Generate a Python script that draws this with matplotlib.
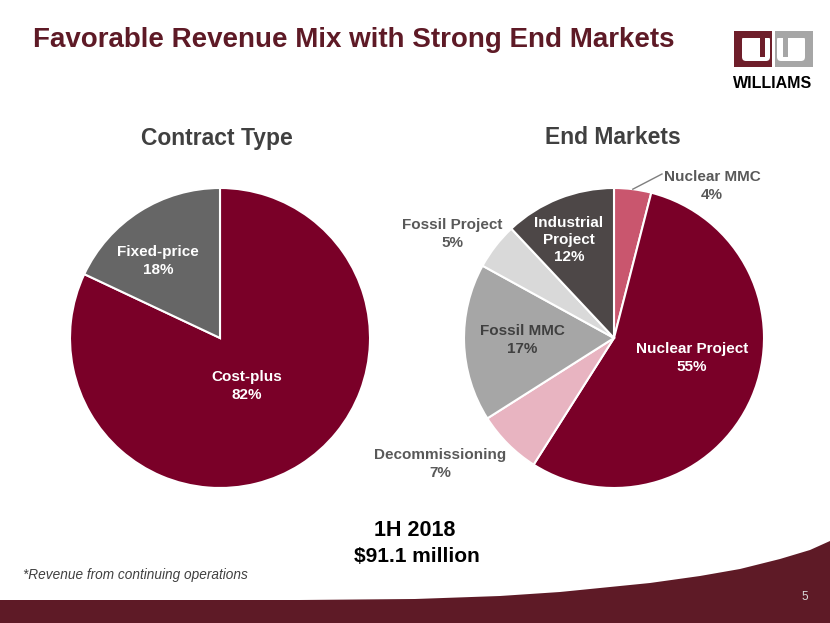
import matplotlib.pyplot as plt
from matplotlib.patches import Polygon, Rectangle, FancyBboxPatch
import numpy as np

plt.rcParams['font.family'] = ['Liberation Sans', 'DejaVu Sans']

W, H = 830, 623

# ===== データ =====
contract_labels = ['Cost-plus', 'Fixed-price']
contract_values = [82, 18]

market_labels = ['Nuclear MMC', 'Nuclear Project', 'Decommissioning',
                 'Fossil MMC', 'Fossil Project', 'Industrial\nProject']
market_values = [4, 55, 7, 17, 5, 12]

# ===== 色 =====
MAROON = '#7A0028'
DARK_RED = '#5E1A26'
contract_colors = [MAROON, '#666666']
market_colors = ['#C9566E', MAROON, '#E8B4C1', '#A6A6A6', '#D9D9D9', '#4D4747']

# ラベル位置（ピクセル座標, 色）
contract_label_pos = [(247, 386, 'white'), (158, 261, 'white')]
market_label_pos = [(712, 186, '#595959'), (692, 358, 'white'), (440, 464, '#595959'),
                    (522, 340, '#404040'), (452, 234, '#595959'), (569, 240, 'white')]

fig = plt.figure(figsize=(W / 100, H / 100), dpi=100)
ax = fig.add_axes([0, 0, 1, 1])


def Y(y):
    return H - y


def draw_pie(values, colors, center, labels, label_pos):
    ax.pie(values, colors=colors, startangle=90, counterclock=False,
           center=(center[0], Y(center[1])), radius=150,
           wedgeprops=dict(edgecolor='white', linewidth=1.5))
    total = sum(values)
    for lab, v, (x, y, c) in zip(labels, values, label_pos):
        ax.text(x, Y(y), f'{lab}\n{round(v / total * 100)}%', ha='center', va='center',
                fontsize=11, fontweight='bold', color=c, linespacing=1.3)


draw_pie(contract_values, contract_colors, (220, 338), contract_labels, contract_label_pos)
draw_pie(market_values, market_colors, (614, 338), market_labels, market_label_pos)

# Nuclear MMC の引き出し線
ang = np.deg2rad(90 - 360 * market_values[0] / sum(market_values) / 2)
x0, y0 = 614 + 150 * np.cos(ang), Y(338) + 150 * np.sin(ang)
ax.plot([x0, 662], [y0, Y(174)], color='#7F7F7F', linewidth=1)

ax.set_xlim(0, W)
ax.set_ylim(0, H)
ax.set_aspect('auto')
ax.axis('off')

# タイトル
ax.text(33, Y(40), 'Favorable Revenue Mix with Strong End Markets', fontsize=20,
        fontweight='bold', color=DARK_RED, ha='left', va='center')
ax.text(217, Y(138), 'Contract Type', fontsize=16.5, fontweight='bold', color='#404040',
        ha='center', va='center')
ax.text(613, Y(138), 'End Markets', fontsize=16.5, fontweight='bold', color='#404040',
        ha='center', va='center')

ax.text(415, Y(530), '1H 2018', fontsize=15.5, fontweight='bold', color='black',
        ha='center', va='center')
ax.text(417, Y(557), '$91.1 million', fontsize=15, fontweight='bold', color='black',
        ha='center', va='center')
ax.text(23, Y(575), '*Revenue from continuing operations', fontsize=9.8, style='italic',
        color='#404040', ha='left', va='center')

# 下部の帯
bx = [0, 300, 415, 500, 560, 600, 650, 700, 740, 780, 810, 830]
by = [600, 600, 599, 596, 592, 588, 583, 576, 569, 559, 550, 541]
pts = [(x, Y(y)) for x, y in zip(bx, by)] + [(W, 0), (0, 0)]
ax.add_patch(Polygon(pts, closed=True, facecolor=DARK_RED, edgecolor='none'))
ax.text(805, Y(597), '5', fontsize=8.5, color='#D9D9D9', ha='center', va='center')

# ロゴ
logo = [
    # 外枠x, 色, 内側x, 縦棒x
    (734, '#6E1E2A', 742, 760),
    (775, '#A6A6A6', 777, 783),
]
for ox, col, ix, sx in logo:
    ax.add_patch(Rectangle((ox, Y(67)), 38, 36, facecolor=col, edgecolor='none'))
    ax.add_patch(FancyBboxPatch((ix, Y(61)), 28, 25,
                                boxstyle='round,pad=0,rounding_size=4',
                                facecolor='white', edgecolor='none'))
    ax.add_patch(Rectangle((ix, Y(38)), 28, 2.5, facecolor=col, edgecolor='none'))
    ax.add_patch(Rectangle((sx, Y(57)), 4.5, 21, facecolor=col, edgecolor='none'))
ax.text(773, Y(84), 'WILLIAMS', fontsize=11.5, fontweight='heavy', color='black',
        ha='center', va='center')

fig.savefig('out.png', dpi=100)
